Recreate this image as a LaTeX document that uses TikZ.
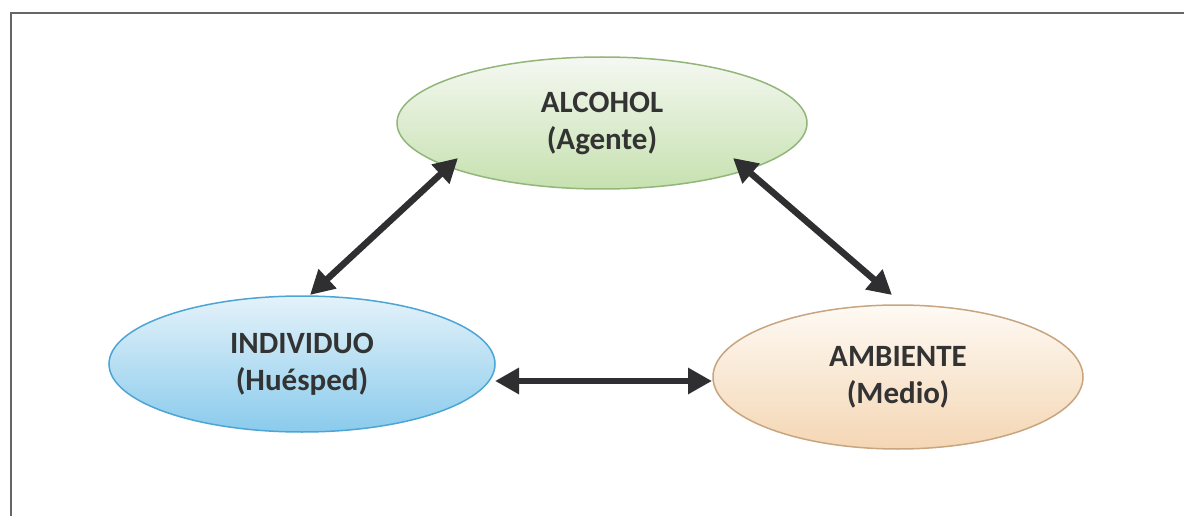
\documentclass[tikz,border=0pt]{standalone}
\usepackage{fontspec}
\setmainfont{Carlito}
\usetikzlibrary{shapes.geometric,arrows.meta}

\definecolor{framegray}{HTML}{666666}
\definecolor{arrowgray}{HTML}{2F2F31}
\definecolor{labelgray}{HTML}{333333}
\definecolor{greenrim}{HTML}{92B67A}
\definecolor{greentop}{HTML}{F5F8F1}
\definecolor{greenmid}{HTML}{E6F0DD}
\definecolor{greenlow}{HTML}{C6E1B0}
\definecolor{bluerim}{HTML}{4CA5D5}
\definecolor{bluetop}{HTML}{E4F2FA}
\definecolor{bluemid}{HTML}{BEE2F5}
\definecolor{bluelow}{HTML}{8ACBEC}
\definecolor{peachrim}{HTML}{C9A57F}
\definecolor{peachtop}{HTML}{FEFAF4}
\definecolor{peachmid}{HTML}{FBEEDF}
\definecolor{peachlow}{HTML}{F4D6B4}

\tikzset{
  oval/.style={ellipse, inner sep=0pt, line width=1.5pt, text=labelgray,
    font=\bfseries\fontsize{31}{37}\selectfont, align=center},
  link/.style={draw=arrowgray, line width=6.5pt, {Triangle[length=24pt,width=25pt]}-{Triangle[length=24pt,width=25pt]}},
}

\begin{document}
\begin{tikzpicture}[x=1pt,y=-1pt]
  \useasboundingbox (0,0) rectangle (1184,516);
  \clip (0,0) rectangle (1184,516);
  \fill[white] (0,0) rectangle (1184,516);

  % outer frame (open to the right and bottom edges of the page)
  \draw[framegray, line width=2pt] (11,530) -- (11,13) -- (1200,13);

  % the three factors
  \node[oval, draw=greenrim, top color=greentop, middle color=greenmid, bottom color=greenlow,
        minimum width=410pt, minimum height=132pt] (agente) at (602,123)
        {ALCOHOL\\(Agente)};
  \node[oval, draw=bluerim, top color=bluetop, middle color=bluemid, bottom color=bluelow,
        minimum width=386pt, minimum height=136pt] (huesped) at (302,364)
        {INDIVIDUO\\(Huésped)};
  \node[oval, draw=peachrim, top color=peachtop, middle color=peachmid, bottom color=peachlow,
        minimum width=370pt, minimum height=144pt] (medio) at (898,377)
        {AMBIENTE\\(Medio)};

  % two-way relations
  \draw[link] ([shift={(-144,35)}]agente.center) -- ([shift={(8,-69)}]huesped.center);
  \draw[link] ([shift={(131,35)}]agente.center) -- ([shift={(-6,-82)}]medio.center);
  \draw[link] ([shift={(193,17)}]huesped.center) -- ([shift={(-186,4)}]medio.center);
\end{tikzpicture}
\end{document}
